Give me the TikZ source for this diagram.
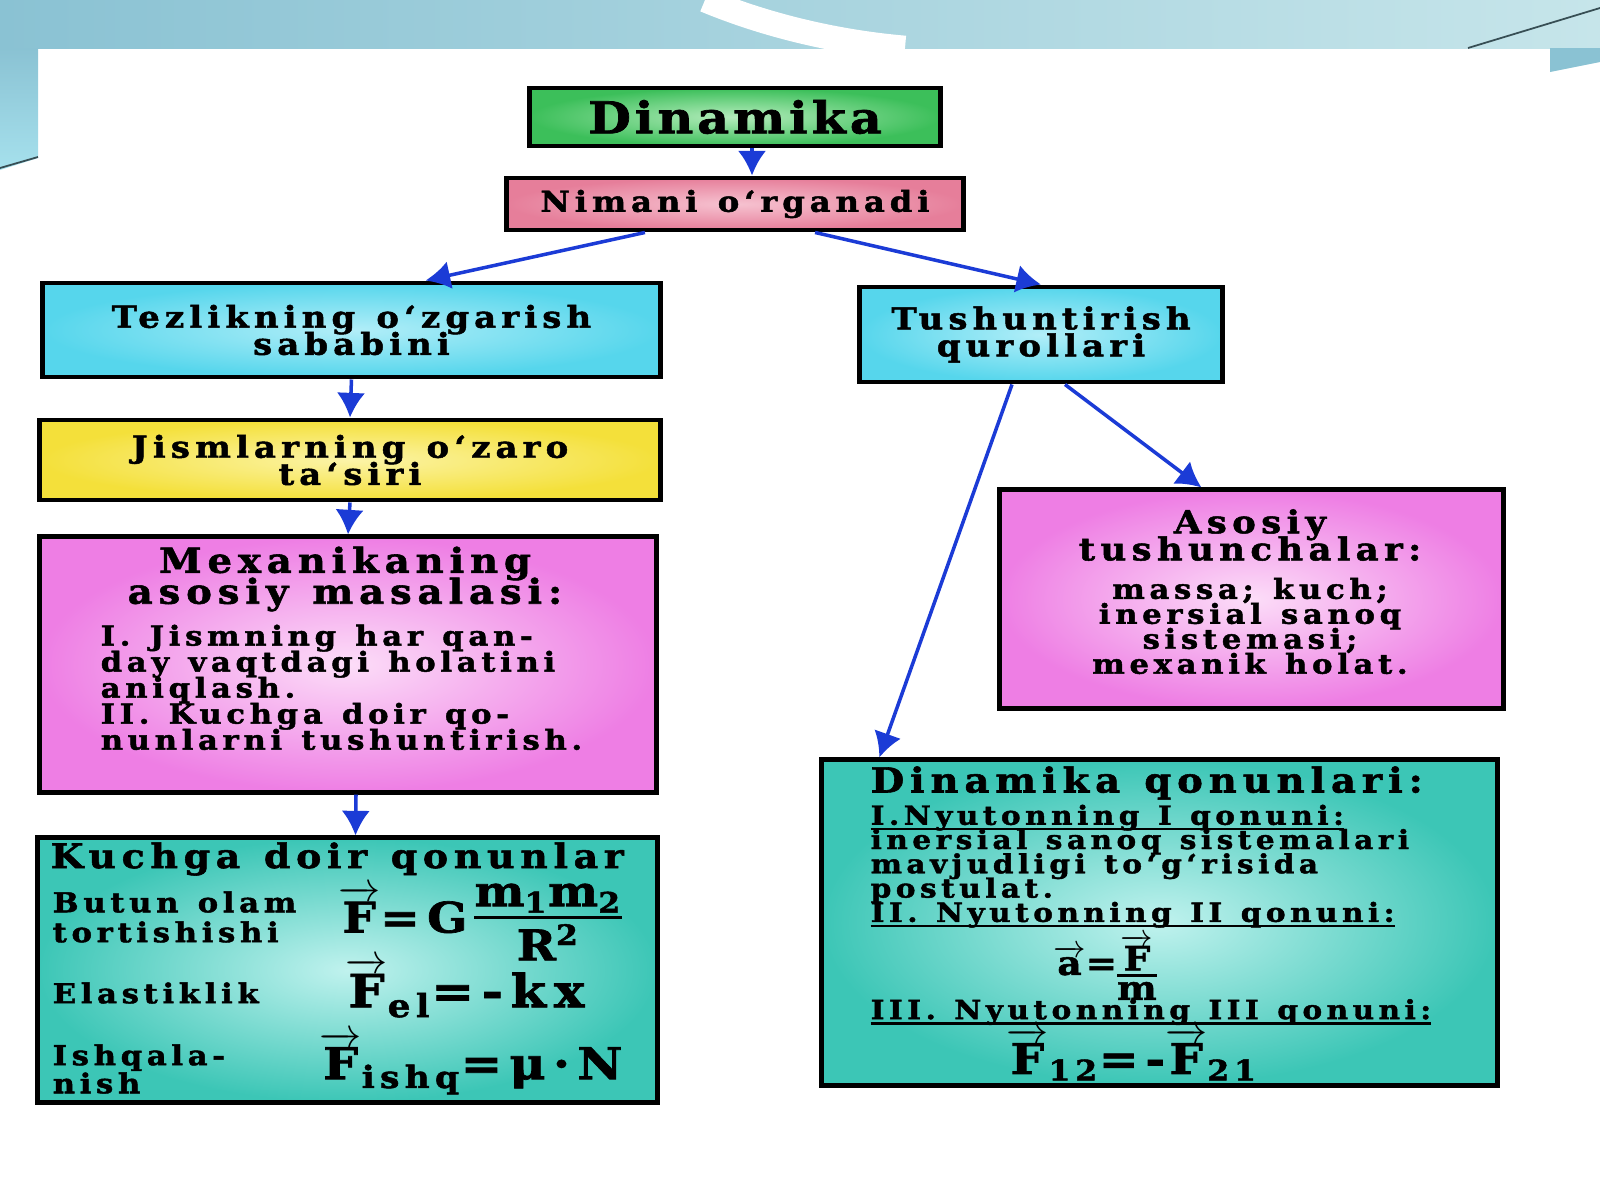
\documentclass[tikz,border=0pt]{standalone}
\usepackage{amsmath}
\usepackage{fontspec}
\setmainfont{DejaVu Serif}[FakeStretch=1.12, LetterSpace=17, WordSpace=1.25, BoldFeatures={FakeBold=1.6}]
\newfontfamily\titlefont{DejaVu Serif}[FakeStretch=1.12, LetterSpace=9, BoldFeatures={FakeBold=1.6}]
\usetikzlibrary{arrows.meta}
\usetikzlibrary{positioning}
\newcommand{\vF}[1]{\overrightarrow{\text{#1}}}
\newcommand{\fs}[2]{\fontsize{#1}{#2}\selectfont\lineskiplimit=-\maxdimen}
\newcommand{\ul}[1]{\setbox0\hbox{#1}\rlap{\rule[-1.6pt]{\wd0}{0.8pt}}\box0}
\newcommand{\stackfrac}[2]{\ensuremath{\vcenter{\offinterlineskip\halign{\hfil##\hfil\cr #1\cr\noalign{\kern1pt\hrule height 0.9pt\kern1.4pt} #2\cr}}}}

\definecolor{bgdark}{HTML}{8AC2D3}
\definecolor{bglight}{HTML}{C6E5EA}
\definecolor{arrowblue}{HTML}{1B3BD6}
\definecolor{greenOut}{HTML}{3CBF5A}
\definecolor{greenIn}{HTML}{B4ECBC}
\definecolor{roseOut}{HTML}{E67E9A}
\definecolor{roseIn}{HTML}{F6C2D0}
\definecolor{cyanOut}{HTML}{56D6EC}
\definecolor{cyanIn}{HTML}{B2EEF8}
\definecolor{yellowOut}{HTML}{F4E03A}
\definecolor{yellowIn}{HTML}{FCF4A8}
\definecolor{pinkOut}{HTML}{EE7EE4}
\definecolor{pinkIn}{HTML}{FCDDF8}
\definecolor{tealOut}{HTML}{3CC6B6}
\definecolor{tealIn}{HTML}{C0F2EE}

\begin{document}
\begin{tikzpicture}[
  x=0.01cm, y=-0.01cm,
  > = {Latex[length=7pt,width=8pt]},
  box/.style = {draw=black, line width=1.4pt, inner sep=0pt, align=center, font=\bfseries},
  link/.style = {->, draw=arrowblue, line width=1pt},
  txt/.style = {inner sep=0pt, font=\bfseries, align=center}
  ]
	% slide background
	\useasboundingbox (0,0) rectangle (1600,1200);
	\fill[white] (0,0) rectangle (1600,1200);
	\shade[left color=bgdark, right color=bglight] (0,0) rectangle (1600,48);
	\shade[top color=bgdark, bottom color=cyanIn!70!bgdark] (0,48) -- (38,48) -- (38,158) -- (0,170) -- cycle;
	\draw[bgdark!40!black, line width=0.5pt] (0,168) -- (38,157);
	\draw[white, line width=7pt] (705,0) .. controls (765,25) and (835,42) .. (905,48);
	\fill[bgdark] (1550,48) -- (1600,48) -- (1600,62) -- (1550,72) -- cycle;
	\draw[bgdark!40!black, line width=0.5pt] (1468,48) -- (1600,8);

	% boxes
	\node[box, inner color=greenIn, outer color=greenOut, minimum width=4.1cm, minimum height=0.58cm,
	      font=\titlefont\bfseries\fs{12.5}{12}] (din) at (735,117) {Dinamika};
	\node[box, inner color=roseIn, outer color=roseOut, minimum width=4.56cm, minimum height=0.52cm,
	      font=\bfseries\fs{8.2}{8}] (nim) at (735,204) {Nimani o‘rganadi};
	\node[box, inner color=cyanIn, outer color=cyanOut, minimum width=6.17cm, minimum height=0.94cm,
	      font=\bfseries\fs{8.6}{7.7}] (tez) at (351.5,330) {Tezlikning o‘zgarish\\sababini};
	\node[box, inner color=cyanIn, outer color=cyanOut, minimum width=3.62cm, minimum height=0.95cm,
	      font=\bfseries\fs{8.6}{7.7}] (tush) at (1041,334.5) {Tushuntirish\\qurollari};
	\node[box, inner color=yellowIn, outer color=yellowOut, minimum width=6.2cm, minimum height=0.8cm,
	      font=\bfseries\fs{8.6}{7.7}] (jism) at (350,460) {Jismlarning o‘zaro\\ta‘siri};
	\node[box, inner color=pinkIn, outer color=pinkOut, minimum width=6.16cm, minimum height=2.55cm] (mex) at (348,664.5) {};
	\node[box, inner color=tealIn, outer color=tealOut, minimum width=6.19cm, minimum height=2.64cm] (kuch) at (347.5,970) {};
	\node[box, inner color=pinkIn, outer color=pinkOut, minimum width=5.03cm, minimum height=2.18cm] (asos) at (1251.5,599) {};
	\node[box, inner color=tealIn, outer color=tealOut, minimum width=6.75cm, minimum height=3.25cm] (dq) at (1159.5,922.5) {};

	% Mexanikaning asosiy masalasi
	\node[txt, font=\bfseries\fs{9.8}{8.8}] (mexT) at (345,579) {Mexanikaning\\asosiy masalasi:};
	\node[txt, anchor=north west, align=left, font=\bfseries\fs{7.8}{7.4}] (mexB) at (100,624)
	  {I. Jismning har qan-\\day vaqtdagi holatini\\aniqlash.\\II. Kuchga doir qo-\\nunlarni tushuntirish.};

	% Asosiy tushunchalar
	\node[txt, font=\bfseries\fs{9}{7.7}] (asosT) at (1250,535) {Asosiy\\tushunchalar:};
	\node[txt, font=\bfseries\fs{7.8}{7.1}] (asosB) at (1250,626) {massa; kuch;\\inersial sanoq\\sistemasi;\\mexanik holat.};

	% Kuchga doir qonunlar
	\node[txt, anchor=west, font=\bfseries\fs{9.6}{9.5}] (kuchT) at (50,859) {Kuchga doir qonunlar};
	\node[txt, anchor=west, align=left, font=\bfseries\fs{7.8}{8.5}] (grav) at (52,917) {Butun olam\\tortishishi};
	\node[txt, anchor=west, font=\bfseries\fs{7.8}{8.5}] (elas) at (52,993) {Elastiklik};
	\node[txt, anchor=west, align=left, font=\bfseries\fs{7.8}{8}] (ishq) at (52,1069) {Ishqala-\\nish};
	\node[txt, font=\bfseries\fs{12}{12}] (gravF) at (480,922)
	  {$\vF{F}\text{=G}\,\stackfrac{m\textsubscript{1}m\textsubscript{2}}{R\textsuperscript{2}}$};
	\node[txt, font=\bfseries\fs{13}{12}] (elasF) at (465,988) {$\vF{F}_{\text{el}}\text{=\,-\,kx}$};
	\node[txt, font=\bfseries\fs{12.5}{12}] (ishqF) at (471,1063) {$\vF{F}_{\text{ishq}}\text{=μ\,·\,N}$};

	% Dinamika qonunlari
	\node[txt, anchor=west, font=\bfseries\fs{9.8}{9.5}] (dqT) at (870,783) {Dinamika qonunlari:};
	\node[txt, anchor=north west, align=left, font=\bfseries\fs{7.5}{6.9}] (dqA) at (870,804)
	  {\ul{I.Nyutonning I qonuni:}\\inersial sanoq sistemalari\\mavjudligi to‘g‘risida\\postulat.\\\ul{II. Nyutonning II qonuni:}};
	\node[txt, font=\bfseries\fs{9.5}{9.5}] (newton2) at (1105,967) {$\vF{a}\text{=}\stackfrac{$\vF{F}$}{m}$};
	\node[txt, anchor=west, font=\bfseries\fs{7.5}{7}] (dqC) at (870,1012) {\ul{III. Nyutonning III qonuni:}};
	\node[txt, font=\bfseries\fs{12}{12}] (newton3) at (1132,1054) {$\vF{F}_{\text{12}}\text{=\,-}\vF{F}_{\text{21}}$};

	% connectors
	\draw[link] ([xshift=0.17cm]din.south) -- ([xshift=0.17cm]nim.north);
	\draw[link] ([xshift=-0.9cm]nim.south) -- ([xshift=0.74cm]tez.north);
	\draw[link] ([xshift=0.8cm]nim.south) -- (tush.north);
	\draw[link] (tez.south) -- (jism.north);
	\draw[link] (jism.south) -- (mex.north);
	\draw[link] ([xshift=0.08cm]mex.south) -- ([xshift=0.08cm]kuch.north);
	\draw[link] ([xshift=-0.29cm]tush.south) -- ([xshift=-2.8cm]dq.north);
	\draw[link] ([xshift=0.24cm]tush.south) -- ([xshift=-0.5cm]asos.north);

\end{tikzpicture}
\end{document}
